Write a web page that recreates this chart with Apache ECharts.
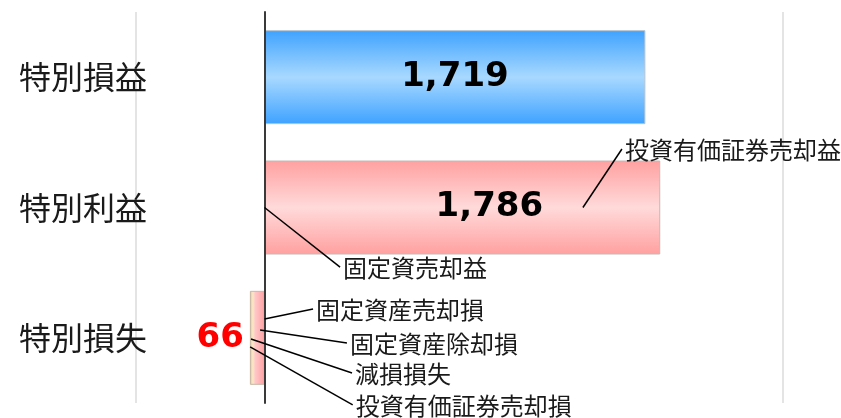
<!DOCTYPE html>
<html>
<head>
<meta charset="utf-8">
<script src="https://cdn.jsdelivr.net/npm/echarts@6/dist/echarts.min.js"></script>
<style>
  html, body { margin: 0; padding: 0; background: #fff; }
  #chart { width: 841px; height: 418px; }
</style>
</head>
<body>
<div id="chart"></div>
<script>
// 区分と金額（損失は左向きに描くため負の値）
const categories = ["特別損益", "特別利益", "特別損失"];
const amounts = [1719, 1786, -66];

// 内訳の注記：引出線の起点と終点（x: 金額軸, y: 区分位置）
const noteNames = [
  "固定資売却益",
  "投資有価証券売却益",
  "固定資産売却損",
  "固定資産除却損",
  "減損損失",
  "投資有価証券売却損",
];
const noteFromX = [0, 1437, 0, -20, -61, -65];
const noteFromY = [1.0, 1.0, 1.856, 1.94, 2.009, 2.07];
const noteToX = [341, 1613, 219, 372, 395, 398];
const noteToY = [1.457, 0.551, 1.779, 2.04, 2.27, 2.515];

const CJK = "'Noto Sans CJK JP', sans-serif";

const barStyles = [
  {
    color: new echarts.graphic.LinearGradient(0, 0, 0, 1, [
      { offset: 0, color: "#3ea2ff" },
      { offset: 0.5, color: "#a8d9ff" },
      { offset: 1, color: "#3ea2ff" },
    ]),
    borderColor: "#b8c4d0",
    borderWidth: 1,
  },
  {
    color: new echarts.graphic.LinearGradient(0, 0, 0, 1, [
      { offset: 0, color: "#ffa0a0" },
      { offset: 0.5, color: "#ffdada" },
      { offset: 1, color: "#ffa0a0" },
    ]),
    borderColor: "#c4b8b8",
    borderWidth: 1,
  },
  {
    color: new echarts.graphic.LinearGradient(0, 0, 1, 0, [
      { offset: 0, color: "#d8b030" },
      { offset: 0.1, color: "#f0dc90" },
      { offset: 0.2, color: "#fde6d0" },
      { offset: 0.38, color: "#ffc6c6" },
      { offset: 1, color: "#ffa0a2" },
    ]),
    borderColor: "#c8b8a8",
    borderWidth: 1,
  },
];

const barLabels = [
  {},
  { offset: [27, 0] },
  { position: "left", distance: 6, color: "#ff0000" },
];

const chart = echarts.init(document.getElementById("chart"));

chart.setOption({
  animation: false,
  grid: {
    left: 136,
    right: 58,
    top: 12,
    bottom: 15,
    containLabel: false,
    outerBoundsMode: "none",
  },
  xAxis: {
    type: "value",
    min: -580,
    max: 2340,
    axisLine: { show: false },
    axisTick: { show: false },
    axisLabel: { show: false },
    splitLine: { show: false },
  },
  yAxis: [
    {
      type: "category",
      inverse: true,
      z: 6,
      data: categories,
      axisLine: { lineStyle: { color: "#3a3a3a", width: 2 } },
      axisTick: { show: false },
      axisLabel: {
        margin: -11,
        fontSize: 32,
        color: "#1a1a1a",
        fontFamily: CJK,
      },
    },
    {
      // 注記用の補助軸（区分位置と一致）
      type: "value",
      inverse: true,
      min: -0.5,
      max: 2.5,
      show: false,
    },
  ],
  series: [
    {
      type: "bar",
      yAxisIndex: 0,
      barWidth: 94,
      data: amounts.map((v, i) => ({
        value: v,
        itemStyle: barStyles[i],
        label: barLabels[i],
      })),
      label: {
        show: true,
        position: "inside",
        fontFamily: "'DejaVu Sans', sans-serif",
        fontWeight: "bold",
        fontSize: 34,
        color: "#000",
        formatter: (p) => Math.abs(p.value).toLocaleString("en-US"),
      },
      markLine: {
        silent: true,
        z: 0,
        symbol: "none",
        label: { show: false },
        lineStyle: { color: "#e4e4e4", width: 2, type: "solid" },
        data: [{ xAxis: -580 }, { xAxis: 2340 }],
      },
    },
    {
      type: "custom",
      yAxisIndex: 1,
      z: 10,
      clip: false,
      silent: true,
      encode: { x: [0, 2], y: [1, 3] },
      data: noteNames.map((n, i) => [
        noteFromX[i],
        noteFromY[i],
        noteToX[i],
        noteToY[i],
      ]),
      renderItem: function (params, api) {
        const p0 = api.coord([api.value(0), api.value(1)]);
        const p1 = api.coord([api.value(2), api.value(3)]);
        return {
          type: "group",
          children: [
            {
              type: "line",
              shape: { x1: p0[0], y1: p0[1], x2: p1[0], y2: p1[1] },
              style: { stroke: "#000", lineWidth: 1.5 },
            },
            {
              type: "text",
              x: p1[0] + 3,
              y: p1[1] + 1,
              style: {
                text: noteNames[params.dataIndex],
                fontFamily: CJK,
                fontSize: 24,
                fill: "#1a1a1a",
                align: "left",
                verticalAlign: "middle",
              },
            },
          ],
        };
      },
    },
  ],
});
</script>
</body>
</html>
